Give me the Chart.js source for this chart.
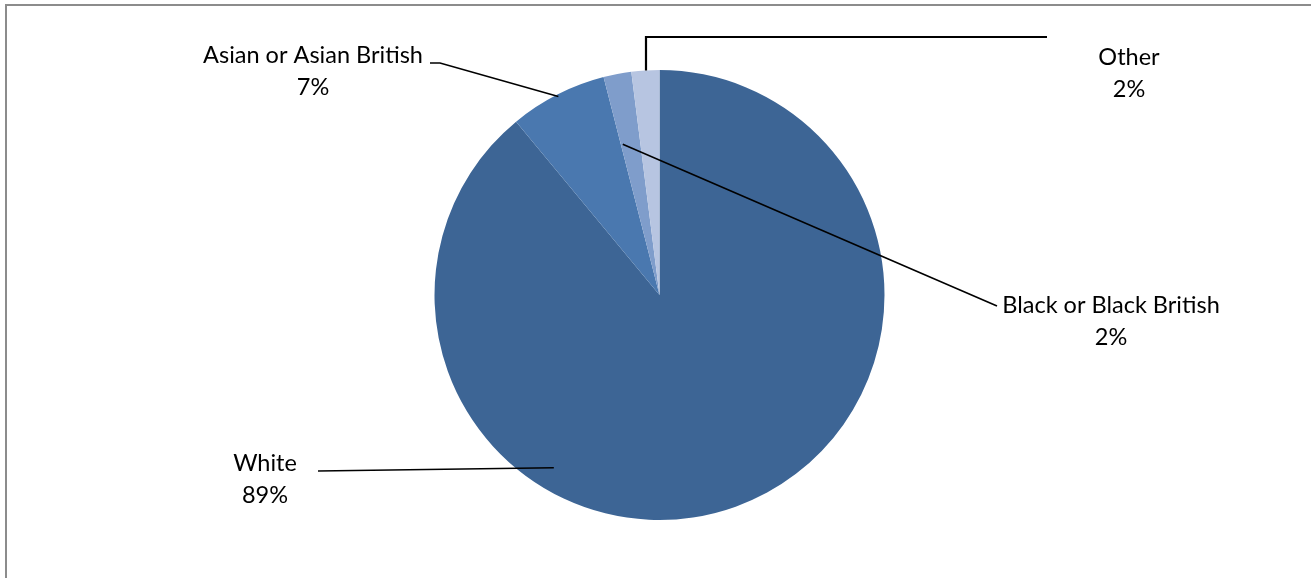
<!DOCTYPE html>
<html>
<head>
<meta charset="utf-8">
<title>Ethnicity</title>
<script src="https://cdn.jsdelivr.net/npm/chart.js@4.4.1/dist/chart.umd.min.js"></script>
<style>
  html, body { margin: 0; padding: 0; background: #fff; }
  #wrap { width: 1311px; height: 578px; position: relative; }
</style>
</head>
<body>
<div id="wrap"><canvas id="ethnicity-chart" width="1311" height="578"></canvas></div>
<script>
const categories = ["White", "Asian or Asian British", "Black or Black British", "Other"];
const percentages = [89, 7, 2, 2];
const sliceColours = ["#3d6595", "#4a78af", "#7f9dcb", "#b7c5e1"];

// where each callout sits: text centre, leader path, and where the leader touches its slice
// anchorFrac = position inside the slice's sweep (0..1), anchorR = fraction of the radius
const callouts = [
    { x: 265, y: 463, path: [[318, 471]], anchorFrac: 0.66, anchorR: 0.9, width: 1.6 },
    { x: 313, y: 55, path: [[440, 63], [430, 63]], anchorFrac: 0.5, anchorR: 0.99, width: 1.6 },
    { x: 1111, y: 305, path: [[997, 306]], anchorFrac: 0.1, anchorR: 0.69, width: 1.6 },
    { x: 1129, y: 57, path: [[646, 37], [1047, 37]], anchorFrac: 0.5, anchorR: 1.0, width: 2.2, vertical: true }
];

const FONT = '23.5px Lato, "Liberation Sans", sans-serif';

const framePlugin = {
    id: 'frame',
    beforeDraw(chart) {
        const ctx = chart.ctx;
        ctx.save();
        ctx.strokeStyle = '#8c8c8c';
        ctx.lineWidth = 2;
        ctx.beginPath();
        ctx.moveTo(6, chart.height);
        ctx.lineTo(6, 5);
        ctx.lineTo(chart.width, 5);
        ctx.stroke();
        ctx.restore();
    }
};

const calloutPlugin = {
    id: 'callouts',
    afterDatasetsDraw(chart) {
        const ctx = chart.ctx;
        const arcs = chart.getDatasetMeta(0).data;
        ctx.save();
        ctx.strokeStyle = '#000';
        ctx.fillStyle = '#000';
        ctx.font = FONT;
        ctx.textAlign = 'center';
        ctx.textBaseline = 'middle';

        arcs.forEach((arc, i) => {
            const c = callouts[i];
            const p = arc.getProps(['x', 'y', 'startAngle', 'endAngle', 'outerRadius']);
            const ang = p.startAngle + (p.endAngle - p.startAngle) * c.anchorFrac;
            const ax = p.x + Math.cos(ang) * p.outerRadius * c.anchorR;
            const ay = p.y + Math.sin(ang) * p.outerRadius * c.anchorR;

            ctx.lineWidth = c.width;
            ctx.beginPath();
            if (c.vertical) {
                // straight up from the slice edge to the elbow, then across
                ctx.moveTo(c.path[0][0], ay);
            } else {
                ctx.moveTo(ax, ay);
            }
            c.path.forEach(pt => ctx.lineTo(pt[0], pt[1]));
            ctx.stroke();

            ctx.fillText(categories[i], c.x, c.y);
            ctx.fillText(percentages[i] + '%', c.x, c.y + 32);
        });
        ctx.restore();
    }
};

new Chart(document.getElementById('ethnicity-chart').getContext('2d'), {
    type: 'pie',
    data: {
        labels: categories,
        datasets: [{
            data: percentages,
            backgroundColor: sliceColours,
            borderWidth: 0,
            hoverOffset: 0
        }]
    },
    options: {
        responsive: false,
        animation: false,
        events: [],
        layout: { padding: { top: 70, bottom: 58, left: 8, right: 0 } },
        plugins: {
            legend: { display: false },
            tooltip: { enabled: false },
            title: { display: false }
        }
    },
    plugins: [framePlugin, calloutPlugin]
});
</script>
</body>
</html>
